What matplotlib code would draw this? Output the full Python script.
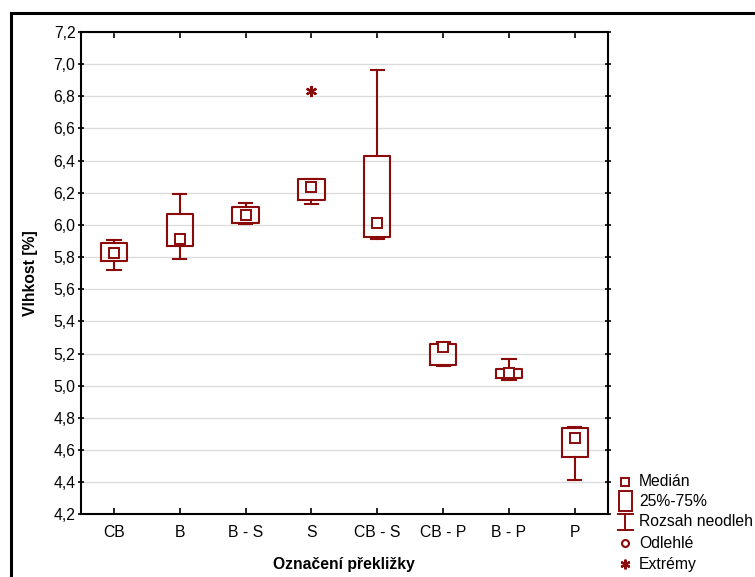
import matplotlib
matplotlib.use("Agg")
import matplotlib.pyplot as plt
from matplotlib.lines import Line2D
from matplotlib.patches import Rectangle

plt.rcParams['font.family'] = ['Liberation Sans', 'DejaVu Sans']

categories = ["CB", "B", "B - S", "S", "CB - S", "CB - P", "B - P", "P"]
medians = [5.826, 5.911, 6.060, 6.236, 6.012, 5.238, 5.076, 4.672]
q1 = [5.774, 5.866, 6.015, 6.152, 5.923, 5.128, 5.045, 4.554]
q3 = [5.886, 6.071, 6.114, 6.288, 6.429, 5.258, 5.103, 4.738]
whisker_low = [5.720, 5.789, 6.006, 6.130, 5.915, 5.122, 5.035, 4.413]
whisker_high = [5.907, 6.193, 6.137, 6.288, 6.966, 5.271, 5.165, 4.743]
extremes = [[], [], [], [6.835], [], [], [], []]

yticks = [4.2, 4.4, 4.6, 4.8, 5.0, 5.2, 5.4, 5.6, 5.8, 6.0, 6.2, 6.4, 6.6, 6.8, 7.0, 7.2]
ytick_labels = [f"{v:.1f}".replace(".", ",") for v in yticks]

legend_labels = ["Medián", "25%-75%", "Rozsah neodleh", "Odlehlé", "Extrémy"]

RED = "#8b0a0a"
FS = 11.3
W, H = 755, 577
fig = plt.figure(figsize=(7.55, 5.77), dpi=100)

def fx(x):
    return x / W

def fy(y):
    return 1 - y / H

ax = fig.add_axes([fx(81), fy(514.3), fx(607.7) - fx(81), fy(32) - fy(514.3)])

stats = []
for i in range(len(categories)):
    stats.append(dict(med=medians[i], q1=q1[i], q3=q3[i],
                      whislo=whisker_low[i], whishi=whisker_high[i],
                      fliers=extremes[i], label=categories[i]))

positions = list(range(1, len(categories) + 1))
ax.bxp(stats, positions=positions, widths=0.4, showfliers=True,
       boxprops=dict(color=RED, linewidth=1.5),
       whiskerprops=dict(color=RED, linewidth=1.5),
       capprops=dict(color=RED, linewidth=1.5),
       medianprops=dict(linewidth=0),
       capwidths=0.2,
       flierprops=dict(marker=(6, 2, 0), markersize=8, markeredgecolor=RED,
                       markeredgewidth=1.6, linestyle='none'),
       zorder=3)
ax.plot(positions, medians, linestyle='none', marker='s', markersize=6.5,
        markerfacecolor='white', markeredgecolor=RED, markeredgewidth=1.4, zorder=4)

ax.set_xlim(0.5, len(categories) + 0.5)
ax.set_ylim(4.2, 7.2)
ax.set_yticks(yticks)
ax.set_yticklabels(ytick_labels, fontsize=FS)
ax.set_xticks(positions)
ax.set_xticklabels(categories, fontsize=FS)
ax.yaxis.grid(True, color='#dcdcdc', linewidth=1.0)
ax.set_axisbelow(True)
for s in ax.spines.values():
    s.set_linewidth(1.5)
    s.set_color('black')
ax.tick_params(axis='y', which='both', direction='inout', length=4, width=1.2,
               right=True, labelright=False, pad=2)
ax.tick_params(axis='x', which='both', direction='in', length=4, width=1.2,
               top=True, labeltop=False, pad=8)
ax.set_xlabel("Označení překližky", fontsize=FS, fontweight='bold')
ax.xaxis.set_label_coords(0.5, -0.088)
ax.set_ylabel("Vlhkost [%]", fontsize=FS, fontweight='bold')
ax.yaxis.set_label_coords(-0.082, 0.5)

# outer frame
fig.add_artist(Line2D([fx(11), fx(11)], [0, fy(13)], color='black', linewidth=2.2))
fig.add_artist(Line2D([fx(11), 1.0], [fy(13), fy(13)], color='black', linewidth=2.2))

# legend
tx = fx(639)
rows = [482, 502, 522, 543, 564]
fig.add_artist(Line2D([fx(624.5)], [fy(rows[0])], marker='s', markersize=5.5,
                      markerfacecolor='white', markeredgecolor=RED, markeredgewidth=1.4,
                      linestyle='none'))
fig.add_artist(Rectangle((fx(619), fy(511)), fx(632) - fx(619), fy(491) - fy(511),
                         transform=fig.transFigure, fill=False, edgecolor=RED, linewidth=1.4))
fig.add_artist(Line2D([fx(617.5), fx(633)], [fy(514), fy(514)], color=RED, linewidth=1.4))
fig.add_artist(Line2D([fx(625), fx(625)], [fy(514), fy(530)], color=RED, linewidth=1.4))
fig.add_artist(Line2D([fx(617.5), fx(633)], [fy(530), fy(530)], color=RED, linewidth=1.4))
fig.add_artist(Line2D([fx(624.5)], [fy(rows[3])], marker='o', markersize=5,
                      markerfacecolor='white', markeredgecolor=RED, markeredgewidth=1.5,
                      linestyle='none'))
fig.add_artist(Line2D([fx(624.5)], [fy(rows[4])], marker=(6, 2, 0), markersize=7,
                      markeredgecolor=RED, markeredgewidth=1.6, linestyle='none'))
for lab, r in zip(legend_labels, rows):
    fig.text(tx, fy(r), lab, fontsize=FS, va='center', ha='left')

fig.savefig("out.png", dpi=100)
